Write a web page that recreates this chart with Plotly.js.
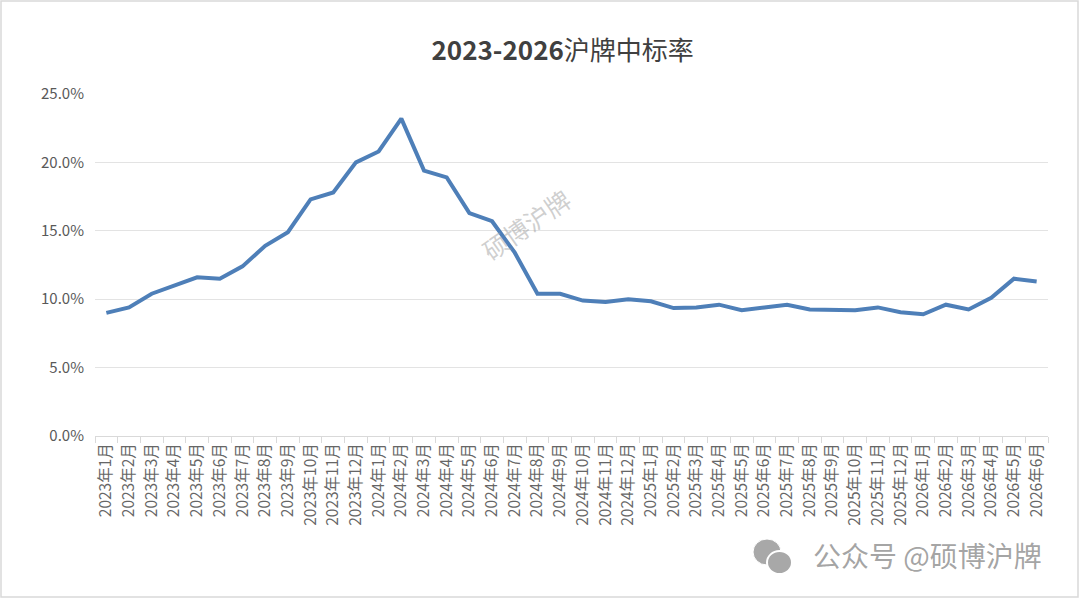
<!DOCTYPE html>
<html>
<head>
<meta charset="utf-8">
<script src="https://cdn.plot.ly/plotly-3.0.1.min.js"></script>
<style>
  html, body { margin: 0; padding: 0; background: #fff; }
  #chart { width: 1080px; height: 599px; }
</style>
</head>
<body>
<div id="chart"></div>
<script>
// months, 2023年1月 .. 2026年6月
var years = [2023, 2024, 2025, 2026];
var monthLabels = [];
years.forEach(function (y) {
  for (var m = 1; m <= 12; m++) {
    if (y === 2026 && m > 6) break;
    monthLabels.push(y + '年' + m + '月');
  }
});

// 中标率 (%)
var winRate = [
  9.0, 9.4, 10.4, 11.0, 11.6, 11.5, 12.4, 13.9, 14.9, 17.3, 17.8, 20.0,
  20.8, 23.2, 19.4, 18.9, 16.3, 15.7, 13.4, 10.4, 10.4, 9.9, 9.8, 10.0,
  9.85, 9.35, 9.4, 9.6, 9.2, 9.4, 9.6, 9.25, 9.2, 9.2, 9.4, 9.05,
  8.9, 9.6, 9.25, 10.1, 11.5, 11.3
];

var yTicks = [0, 5, 10, 15, 20, 25];

// plot area in pixels, used to place the frame / watermark
var M = {l: 95, r: 32, t: 94, b: 163};
var W = 1080, H = 599;
var pw = W - M.l - M.r, ph = H - M.t - M.b;
function px2x(px) { return (px - M.l) / pw; }
function px2y(py) { return (H - M.b - py) / ph; }

var trace = {
  x: monthLabels,
  y: winRate,
  type: 'scatter',
  mode: 'lines',
  line: {color: '#4e7fb8', width: 4},
  hoverinfo: 'x+y'
};

var font = '"Noto Sans CJK SC", "Noto Sans", sans-serif';

var layout = {
  width: W,
  height: H,
  margin: M,
  paper_bgcolor: '#ffffff',
  plot_bgcolor: '#ffffff',
  showlegend: false,
  font: {family: font, color: '#595959'},
  title: {
    text: '<b>2023-2026</b>沪牌中标率',
    font: {family: font, size: 26, color: '#404040'},
    x: 0.521, xanchor: 'center',
    y: 0.915, yanchor: 'middle'
  },
  xaxis: {
    type: 'category',
    tickangle: -90,
    tickfont: {size: 15.5, color: '#666666'},
    showgrid: false,
    showline: true,
    linecolor: '#d9d9d9',
    linewidth: 1,
    ticks: 'outside',
    tickson: 'boundaries',
    ticklen: 6,
    tickcolor: '#d9d9d9',
    range: [-0.5, monthLabels.length - 0.5],
    fixedrange: true
  },
  yaxis: {
    range: [0, 25],
    tickvals: yTicks,
    ticktext: yTicks.map(function (v) { return v.toFixed(1) + '%'; }),
    tickfont: {size: 15, color: '#595959'},
    showgrid: true,
    gridcolor: '#e3e3e3',
    gridwidth: 1,
    zeroline: false,
    showline: false,
    ticks: '',
    ticklabelstandoff: 10,
    fixedrange: true
  },
  shapes: [
    {
      // chart frame
      type: 'rect', xref: 'paper', yref: 'paper',
      x0: px2x(1), x1: px2x(1078), y0: px2y(597), y1: px2y(1),
      line: {color: '#d9d9d9', width: 1.5}, layer: 'below'
    },
    {
      // wechat icon, big bubble
      type: 'circle', xref: 'paper', yref: 'paper',
      x0: px2x(753), x1: px2x(781), y0: px2y(565), y1: px2y(539),
      fillcolor: '#a8a8a8', line: {color: '#ffffff', width: 1}
    },
    {
      // wechat icon, small bubble
      type: 'circle', xref: 'paper', yref: 'paper',
      x0: px2x(767), x1: px2x(792), y0: px2y(574), y1: px2y(551),
      fillcolor: '#a8a8a8', line: {color: '#ffffff', width: 2}
    }
  ],
  annotations: [
    {
      text: '硕博沪牌', xref: 'paper', yref: 'paper',
      x: px2x(526), y: px2y(224), xanchor: 'center', yanchor: 'middle',
      showarrow: false, textangle: -35,
      font: {family: font, size: 25, color: 'rgba(160,160,160,0.5)'}
    },
    {
      text: '公众号 @硕博沪牌', xref: 'paper', yref: 'paper',
      x: px2x(927), y: px2y(555), xanchor: 'center', yanchor: 'middle',
      showarrow: false,
      font: {family: font, size: 28, color: 'rgba(140,140,140,0.8)'}
    }
  ]
};

Plotly.newPlot('chart', [trace], layout, {displayModeBar: false, staticPlot: true});
</script>
</body>
</html>
